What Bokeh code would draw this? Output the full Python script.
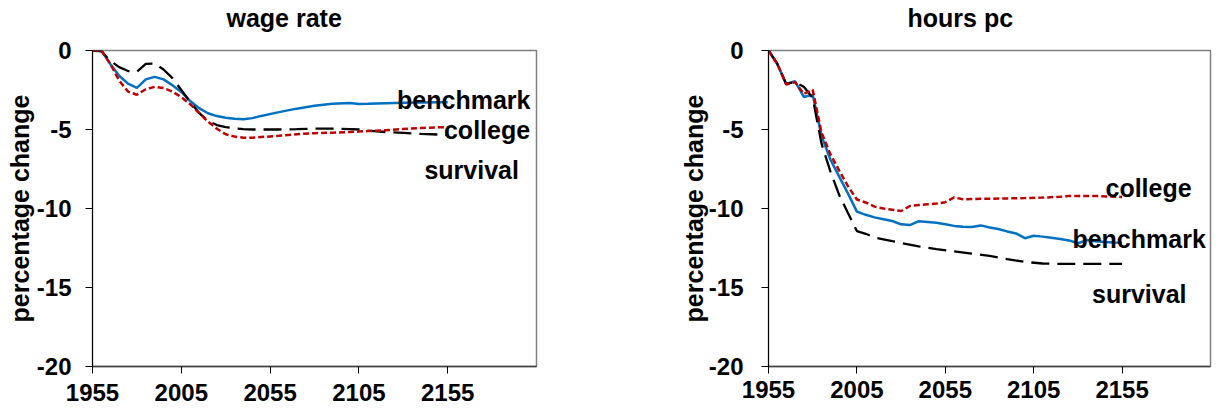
from bokeh.plotting import figure
from bokeh.layouts import row
from bokeh.models import Range1d, FixedTicker, Label, LinearAxis
from bokeh.embed import file_html
from bokeh.resources import INLINE

# ---------------- data ----------------
# wage rate panel
wage_years = [1955, 1960, 1965, 1970, 1975, 1980, 1985, 1990, 1995, 2000, 2005, 2010,
              2015, 2020, 2025, 2030, 2035, 2040, 2045, 2050, 2060, 2070, 2080, 2090,
              2100, 2105, 2110, 2120, 2130, 2140, 2150, 2155]
wage_benchmark = [0, 0, -0.85, -1.6, -2.1, -2.36, -1.83, -1.67, -1.83, -2.2, -2.62, -3.2,
                  -3.65, -3.97, -4.15, -4.25, -4.32, -4.35, -4.28, -4.14, -3.9, -3.68, -3.5, -3.37,
                  -3.33, -3.38, -3.37, -3.34, -3.31, -3.29, -3.28, -3.28]
wage_college = [0, 0, -0.85, -1.9, -2.6, -2.8, -2.45, -2.3, -2.38, -2.6, -2.95, -3.4,
                -3.95, -4.5, -4.95, -5.3, -5.45, -5.52, -5.52, -5.48, -5.4, -5.3, -5.23, -5.2,
                -5.16, -5.13, -5.1, -5.05, -4.97, -4.9, -4.86, -4.85]
wage_survival = [0, -0.05, -0.65, -1.05, -1.3, -1.35, -0.85, -0.82, -1.2, -1.75, -2.5, -3.25,
                 -3.95, -4.45, -4.72, -4.85, -4.93, -4.97, -5.0, -5.0, -5.0, -4.98, -4.95, -4.95,
                 -4.97, -5.0, -5.07, -5.16, -5.22, -5.28, -5.32, -5.35]

# hours pc panel
hours_bench_years = [1955, 1960, 1965, 1970, 1975, 1980, 1985, 1990, 1995, 2000, 2005, 2010,
                     2015, 2020, 2025, 2030, 2035, 2040, 2045, 2050, 2055, 2060, 2065, 2070,
                     2075, 2080, 2085, 2090, 2095, 2100, 2105, 2110, 2115, 2120, 2125, 2130,
                     2135, 2140, 2145, 2150, 2155]
hours_benchmark = [0, -0.85, -2.12, -1.95, -2.94, -2.8, -5.4, -6.9, -7.98, -9.06, -10.2, -10.4,
                   -10.56, -10.68, -10.79, -11.0, -11.05, -10.8, -10.85, -10.9, -11.0, -11.1, -11.15, -11.17,
                   -11.07, -11.2, -11.3, -11.45, -11.58, -11.88, -11.72, -11.78, -11.85, -11.93, -12.02, -12.2,
                   -12.0, -12.08, -12.12, -12.15, -12.17]
hours_coll_years = [1955, 1960, 1965, 1970, 1975, 1980, 1985, 1990, 1995, 2000, 2005, 2010,
                    2015, 2020, 2025, 2030, 2035, 2040, 2045, 2050, 2055, 2060, 2065, 2070,
                    2080, 2090, 2100, 2110, 2120, 2125, 2140, 2155]
hours_college = [0, -0.85, -2.15, -2.0, -2.75, -2.48, -5.2, -6.56, -7.6, -8.6, -9.43, -9.62,
                 -9.88, -10.0, -10.08, -10.16, -9.84, -9.78, -9.73, -9.69, -9.6, -9.3, -9.42, -9.4,
                 -9.38, -9.36, -9.34, -9.31, -9.26, -9.21, -9.21, -9.27]
hours_surv_years = [1955, 1960, 1965, 1970, 1975, 1980, 1985, 1990, 1995, 2000, 2005, 2010,
                    2015, 2020, 2025, 2030, 2040, 2050, 2060, 2070, 2080, 2090, 2100, 2110,
                    2115, 2155]
hours_survival = [0, -0.85, -2.12, -2.0, -2.3, -3.0, -5.9, -7.65, -9.15, -10.3, -11.43, -11.6,
                  -11.83, -11.95, -12.07, -12.18, -12.4, -12.57, -12.72, -12.86, -13.0, -13.2, -13.38, -13.48,
                  -13.5, -13.5]

x_ticks = [1955, 2005, 2055, 2105, 2155]
y_ticks = [0, -5, -10, -15, -20]
y_tick_labels = ["0", "-5", "-10", "-15", "-20"]
titles = ["wage rate", "hours pc"]
y_label = "percentage change"
series_names = ["benchmark", "college", "survival"]

FONT = "Liberation Sans"
BLUE = "#0070C0"
RED = "#C00000"
BLACK = "#000000"


def make_fig(width, bl, br, title, title_offset, ylab_standoff, ytick_standoff, xtick_standoff):
    p = figure(width=width, height=413, output_backend="svg", toolbar_location=None,
               x_range=Range1d(1955, 2205), y_range=Range1d(-20, 0),
               min_border_left=bl, min_border_right=br, min_border_top=50, min_border_bottom=47)
    xax = p.below[0]
    yax = p.left[0]
    p.title.text = title
    p.title.text_font = FONT
    p.title.text_font_size = "25px"
    p.title.text_font_style = "bold"
    p.title.text_color = "black"
    p.title.align = "left"
    p.title.offset = title_offset
    p.title.standoff = 0
    p.title.vertical_align = "bottom"
    p.xgrid.visible = False
    p.ygrid.visible = False
    p.outline_line_color = "#808080"
    p.outline_line_width = 1.5
    p.background_fill_color = "white"
    p.border_fill_color = "white"
    for ax in (xax, yax):
        ax.major_label_text_font = FONT
        ax.major_label_text_font_size = "24px"
        ax.major_label_text_font_style = "bold"
        ax.major_label_text_color = "black"
        ax.major_tick_in = 0
        ax.major_tick_out = 7
        ax.minor_tick_out = 0
        ax.minor_tick_in = 0
        ax.major_tick_line_color = "black"
    xax.ticker = FixedTicker(ticks=x_ticks)
    yax.ticker = FixedTicker(ticks=y_ticks)
    yax.major_label_overrides = {t: s for t, s in zip(y_ticks, y_tick_labels)}
    xax.axis_line_color = "#404040"
    xax.axis_line_width = 1.5
    yax.axis_line_color = "black"
    yax.axis_line_width = 1
    xax.major_label_standoff = xtick_standoff
    yax.major_label_standoff = ytick_standoff
    yax.axis_label = y_label
    yax.axis_label_text_font = FONT
    yax.axis_label_text_font_size = "25px"
    yax.axis_label_text_font_style = "bold"
    yax.axis_label_text_color = "black"
    yax.axis_label_standoff = ylab_standoff
    # invisible spacer axis above the frame, pushes the title upward
    spacer = LinearAxis(ticker=FixedTicker(ticks=[2080]), axis_line_color=None,
                        major_tick_line_color=None, minor_tick_line_color=None,
                        major_tick_out=19, major_tick_in=0, minor_tick_out=0, minor_tick_in=0,
                        major_label_standoff=0, major_label_text_font_size="1px",
                        major_label_text_alpha=0, major_label_overrides={2080: " "})
    p.add_layout(spacer, "above")
    return p


def add_label(p, x, y, text, align="left"):
    p.add_layout(Label(x=x, y=y, text=text, text_font=FONT, text_font_size="25px",
                       text_font_style="bold", text_baseline="alphabetic", text_align=align,
                       text_color="black"))


# left panel
p1 = make_fig(600, 92, 64, titles[0], 134, 0, 14, 10)
p1.line(wage_years, wage_benchmark, line_color=BLUE, line_width=2.5)
p1.line(wage_years, wage_survival, line_color=BLACK, line_width=2.3, line_dash="18 8")
p1.line(wage_years, wage_college, line_color=RED, line_width=2.5, line_dash="6 3")
add_label(p1, 2126.5, -3.16, series_names[0])
add_label(p1, 2152.9, -5.06, series_names[1])
add_label(p1, 2141.9, -7.59, series_names[2])

# right panel
p2 = make_fig(620, 168, 10, titles[1], 139, -2, 18, 7)
p2.line(hours_bench_years, hours_benchmark, line_color=BLUE, line_width=2.5)
p2.line(hours_surv_years, hours_survival, line_color=BLACK, line_width=2.3, line_dash="18 8")
p2.line(hours_coll_years, hours_college, line_color=RED, line_width=2.5, line_dash="6 3")
add_label(p2, 2145.6, -8.68, series_names[1])
add_label(p2, 2126.9, -11.96, series_names[0])
add_label(p2, 2138.0, -15.43, series_names[2])

layout = row(p1, p2)
open("out.html", "w").write(file_html(layout, INLINE))
